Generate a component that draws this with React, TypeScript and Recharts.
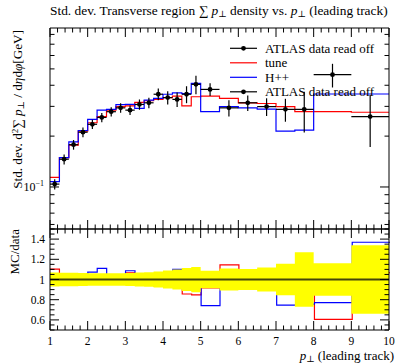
import { ComposedChart, Line, Scatter, XAxis, YAxis, ErrorBar, Area, ReferenceLine } from 'recharts';

const FONT = '"Liberation Serif", "DejaVu Serif", serif';

// bin edges in p_T (leading track) [GeV]
const BIN_EDGES = [1, 1.25, 1.5, 1.75, 2, 2.25, 2.5, 2.75, 3, 3.25, 3.5, 3.75, 4, 4.25, 4.5, 4.75, 5, 5.5, 6, 6.5, 7, 7.5, 8, 9, 10];

const DATA_VALUES = [0.104, 0.146, 0.178, 0.211, 0.235, 0.258, 0.279, 0.294, 0.285, 0.308, 0.315, 0.354, 0.338, 0.330, 0.354, 0.405, 0.378, 0.294, 0.315, 0.299, 0.288, 0.288, 0.462, 0.261];
const DATA_REL_ERR = [0.07, 0.068, 0.066, 0.065, 0.063, 0.063, 0.063, 0.063, 0.065, 0.07, 0.072, 0.08, 0.09, 0.1, 0.115, 0.125, 0.087, 0.11, 0.105, 0.12, 0.155, 0.27, 0.16, 0.34];
const TUNE_VALUES = [0.114, 0.149, 0.177, 0.214, 0.240, 0.261, 0.285, 0.299, 0.302, 0.317, 0.324, 0.330, 0.338, 0.345, 0.302, 0.342, 0.345, 0.335, 0.315, 0.312, 0.299, 0.279, 0.279, 0.277];
const HPP_VALUES = [0.1075, 0.149, 0.185, 0.216, 0.251, 0.285, 0.288, 0.307, 0.308, 0.292, 0.327, 0.335, 0.354, 0.361, 0.357, 0.410, 0.279, 0.299, 0.294, 0.289, 0.214, 0.217, 0.355, 0.355];

const X_MAJOR = [1, 2, 3, 4, 5, 6, 7, 8, 9, 10];
const MAIN_Y_TICKS = [0.06, 0.07, 0.08, 0.09, 0.1, 0.2, 0.3, 0.4, 0.5, 0.6, 0.7, 0.8];
const RATIO_Y_LABELS = [0.6, 0.8, 1, 1.2, 1.4];

const LEGEND_ITEMS = [
  { label: 'ATLAS data read off', color: '#000', marker: true },
  { label: 'tune', color: '#ff0000', marker: false },
  { label: 'H++', color: '#0000ff', marker: false },
  { label: 'ATLAS data read off', color: '#000', marker: true },
];

const round = (v: number) => Math.round(v * 1000) / 1000;

const X_TICKS: number[] = [];
X_MAJOR.forEach((m, i) => {
  X_TICKS.push(m);
  if (i < X_MAJOR.length - 1) for (let k = 1; k < 5; k++) X_TICKS.push(round(m + k * 0.2));
});

const RATIO_Y_TICKS: number[] = [];
for (let k = 0; k <= 20; k++) RATIO_Y_TICKS.push(round(0.5 + k * 0.05));

// step rows: one per lower edge, plus the closing edge
const stepRows = BIN_EDGES.map((edge, i) => {
  const j = Math.min(i, DATA_VALUES.length - 1);
  return {
    x: edge,
    tune: TUNE_VALUES[j],
    hpp: HPP_VALUES[j],
    tuneR: TUNE_VALUES[j] / DATA_VALUES[j],
    hppR: HPP_VALUES[j] / DATA_VALUES[j],
    band: [1 - DATA_REL_ERR[j], 1 + DATA_REL_ERR[j]],
  };
});

const dataPoints = DATA_VALUES.map((v, i) => ({
  x: (BIN_EDGES[i] + BIN_EDGES[i + 1]) / 2,
  y: v,
  ex: (BIN_EDGES[i + 1] - BIN_EDGES[i]) / 2,
  ey: v * DATA_REL_ERR[i],
}));

const near = (v: number, step: number) => Math.abs(v / step - Math.round(v / step)) < 1e-6;

function XTick(props: any) {
  const { x, y, payload, dir, showLabel } = props;
  const v = payload.value;
  const major = near(v, 1);
  return (
    <g>
      <line x1={x} x2={x} y1={y} y2={y + dir * (major ? 9 : 4.5)} stroke="#000" />
      {showLabel && major && (
        <text x={x} y={y + 14.5} textAnchor="middle" fontSize={11.5} fontFamily={FONT} fill="#000">
          {v}
        </text>
      )}
    </g>
  );
}

function MainYTick(props: any) {
  const { x, y, payload, dir, showLabel } = props;
  const major = Math.abs(payload.value - 0.1) < 1e-9;
  return (
    <g>
      <line x1={x} x2={x + dir * (major ? 9 : 4.5)} y1={y} y2={y} stroke="#000" />
      {showLabel && major && (
        <text x={44} y={y + 4} textAnchor="end" fontSize={12} fontFamily={FONT} fill="#000">
          10<tspan dy={-5} fontSize={8}>−1</tspan>
        </text>
      )}
    </g>
  );
}

function RatioYTick(props: any) {
  const { x, y, payload, dir, showLabel } = props;
  const v = payload.value;
  const major = RATIO_Y_LABELS.some((l) => Math.abs(l - v) < 1e-6);
  return (
    <g>
      <line x1={x} x2={x + dir * (major ? 9 : 4.5)} y1={y} y2={y} stroke="#000" />
      {showLabel && major && (
        <text x={45} y={y + 4} textAnchor="end" fontSize={11.5} fontFamily={FONT} fill="#000">
          {v === 1 ? '1' : v.toFixed(1)}
        </text>
      )}
    </g>
  );
}

const W = 396;
const H = 363;
const frame = { stroke: '#000', strokeWidth: 1 };
const MAIN_MARGIN = { top: 27, right: 6, bottom: 133, left: 49 };
const RATIO_MARGIN = { top: 228, right: 6, bottom: 32, left: 49 };

function MainPanel() {
  return (
    <ComposedChart width={W} height={H} data={stepRows} margin={MAIN_MARGIN}>
      <XAxis dataKey="x" type="number" domain={[1, 10]} ticks={X_TICKS} interval={0} allowDataOverflow
        height={1} tickSize={0} tickMargin={0} tickLine={false} axisLine={frame}
        tick={(p: any) => <XTick {...p} dir={-1} />} />
      <XAxis xAxisId="top" orientation="top" dataKey="x" type="number" domain={[1, 10]} ticks={X_TICKS} interval={0}
        allowDataOverflow height={1} tickSize={0} tickMargin={0} tickLine={false} axisLine={frame}
        tick={(p: any) => <XTick {...p} dir={1} />} />
      <YAxis type="number" scale="log" domain={[0.0564, 0.873]} ticks={MAIN_Y_TICKS} interval={0} allowDataOverflow
        width={1} tickSize={0} tickMargin={0} tickLine={false} axisLine={frame}
        tick={(p: any) => <MainYTick {...p} dir={1} showLabel />} />
      <YAxis yAxisId="right" orientation="right" type="number" scale="log" domain={[0.0564, 0.873]} ticks={MAIN_Y_TICKS}
        interval={0} allowDataOverflow width={1} tickSize={0} tickMargin={0} tickLine={false} axisLine={frame}
        tick={(p: any) => <MainYTick {...p} dir={-1} />} />
      <Line dataKey="tune" type="stepAfter" stroke="#ff0000" strokeWidth={1.2} dot={false} isAnimationActive={false} />
      <Line dataKey="hpp" type="stepAfter" stroke="#0000ff" strokeWidth={1.2} dot={false} isAnimationActive={false} />
      <Scatter data={dataPoints} dataKey="y" fill="#000" isAnimationActive={false}
        shape={(p: any) => <circle cx={p.cx} cy={p.cy} r={2.4} fill="#000" />}>
        <ErrorBar dataKey="ey" direction="y" width={0} stroke="#000" strokeWidth={1.2} isAnimationActive={false} />
        <ErrorBar dataKey="ex" direction="x" width={0} stroke="#000" strokeWidth={1.2} isAnimationActive={false} />
      </Scatter>
    </ComposedChart>
  );
}

// MC/data lines sit underneath the yellow data band, so they get their own layer
function RatioLines() {
  return (
    <ComposedChart width={W} height={H} data={stepRows} margin={RATIO_MARGIN}>
      <XAxis dataKey="x" type="number" domain={[1, 10]} allowDataOverflow height={1} tick={false} tickLine={false} axisLine={false} />
      <YAxis type="number" domain={[0.5, 1.5]} allowDataOverflow width={1} tick={false} tickLine={false} axisLine={false} />
      <Line dataKey="tuneR" type="stepAfter" stroke="#ff0000" strokeWidth={1.2} dot={false} isAnimationActive={false} />
      <Line dataKey="hppR" type="stepAfter" stroke="#0000ff" strokeWidth={1.2} dot={false} isAnimationActive={false} />
    </ComposedChart>
  );
}

function RatioBand() {
  return (
    <ComposedChart width={W} height={H} data={stepRows} margin={RATIO_MARGIN}>
      <XAxis dataKey="x" type="number" domain={[1, 10]} ticks={X_TICKS} interval={0} allowDataOverflow
        height={1} tickSize={0} tickMargin={0} tickLine={false} axisLine={frame}
        tick={(p: any) => <XTick {...p} dir={-1} showLabel />} />
      <XAxis xAxisId="top" orientation="top" dataKey="x" type="number" domain={[1, 10]} ticks={X_TICKS} interval={0}
        allowDataOverflow height={1} tickSize={0} tickMargin={0} tickLine={false} axisLine={frame}
        tick={(p: any) => <XTick {...p} dir={1} />} />
      <YAxis type="number" domain={[0.5, 1.5]} ticks={RATIO_Y_TICKS} interval={0} allowDataOverflow
        width={1} tickSize={0} tickMargin={0} tickLine={false} axisLine={frame}
        tick={(p: any) => <RatioYTick {...p} dir={1} showLabel />} />
      <YAxis yAxisId="right" orientation="right" type="number" domain={[0.5, 1.5]} ticks={RATIO_Y_TICKS} interval={0}
        allowDataOverflow width={1} tickSize={0} tickMargin={0} tickLine={false} axisLine={frame}
        tick={(p: any) => <RatioYTick {...p} dir={-1} />} />
      <Area dataKey="band" type="stepAfter" fill="#ffff00" fillOpacity={1} stroke="none" isAnimationActive={false} />
      <ReferenceLine y={1} stroke="#46460a" strokeWidth={2} />
    </ComposedChart>
  );
}

function Annotations() {
  return (
    <svg width={W} height={H} style={{ position: 'absolute', left: 0, top: 0 }} fontFamily={FONT} fill="#000">
      <text x={50} y={15} fontSize={13.4}>
        Std. dev. Transverse region ∑ <tspan fontStyle="italic">p</tspan>
        <tspan fontSize={9} dy={2}>⊥</tspan>
        <tspan dy={-2}> density vs. </tspan>
        <tspan fontStyle="italic">p</tspan>
        <tspan fontSize={9} dy={2}>⊥</tspan>
        <tspan dy={-2}> (leading track)</tspan>
      </text>
      <text transform="translate(22,30) rotate(-90)" textAnchor="end" fontSize={13.2}>
        Std. dev. d<tspan fontSize={9} dy={-4}>2</tspan>
        <tspan dy={4}>∑ </tspan>
        <tspan fontStyle="italic">p</tspan>
        <tspan fontSize={9} dy={2}>⊥</tspan>
        <tspan dy={-2}> / d</tspan>
        <tspan fontStyle="italic">η</tspan>d<tspan fontStyle="italic">φ</tspan>[GeV]
      </text>
      <text transform="translate(19,229) rotate(-90)" textAnchor="end" fontSize={13}>MC/data</text>
      <text x={394} y={360} textAnchor="end" fontSize={13}>
        <tspan fontStyle="italic">p</tspan>
        <tspan fontSize={9} dy={1.5}>⊥</tspan>
        <tspan dy={-1.5}> (leading track)</tspan>
      </text>
      {LEGEND_ITEMS.map((item, i) => {
        const y = 48.3 + i * 14.5;
        return (
          <g key={i}>
            <line x1={230} x2={257} y1={y} y2={y} stroke={item.color} strokeWidth={1.2} />
            {item.marker && <circle cx={243.5} cy={y} r={2.4} fill="#000" />}
            <text x={265} y={y + 4.5} fontSize={13}>{item.label}</text>
          </g>
        );
      })}
    </svg>
  );
}

export default function App() {
  return (
    <div style={{ position: 'absolute', left: 0, top: 0, width: W, height: H, background: '#fff' }}>
      <div style={{ position: 'absolute', left: 0, top: 0 }}>
        <MainPanel />
      </div>
      <div style={{ position: 'absolute', left: 0, top: 0 }}>
        <RatioLines />
      </div>
      <div style={{ position: 'absolute', left: 0, top: 0 }}>
        <RatioBand />
      </div>
      <Annotations />
    </div>
  );
}
